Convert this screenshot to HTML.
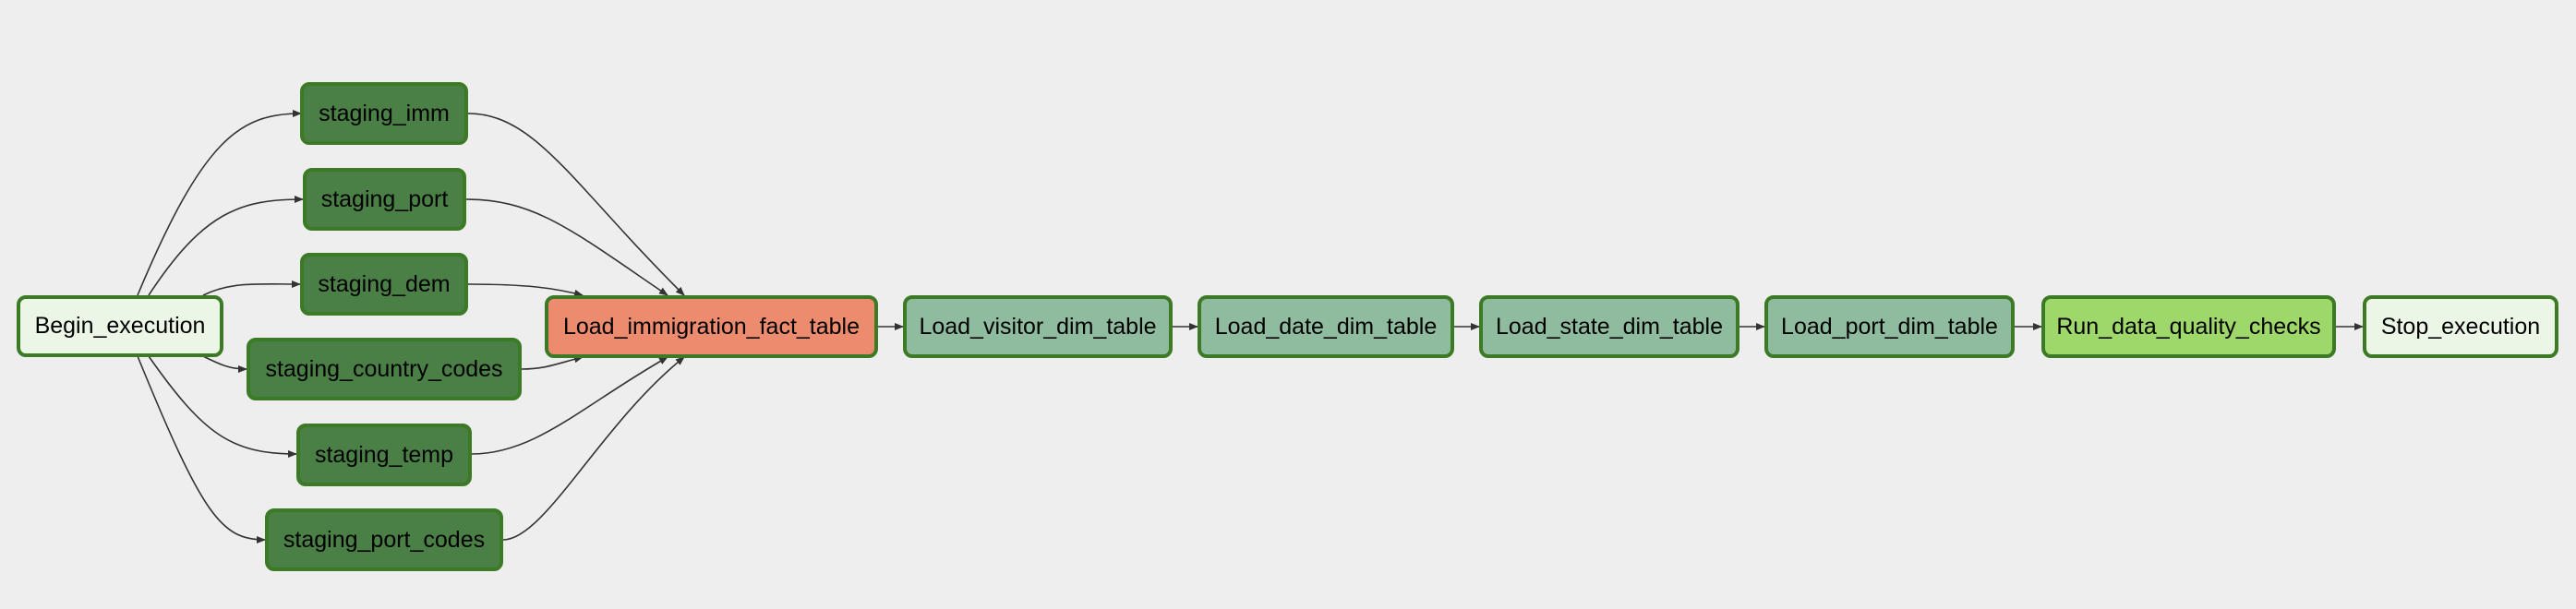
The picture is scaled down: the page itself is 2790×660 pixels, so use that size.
<!DOCTYPE html>
<html><head><meta charset="utf-8"><style>
body{margin:0;width:2790px;height:660px;background:#eeeeee;overflow:hidden;position:relative;font-family:"Liberation Sans",Arial,sans-serif}
.n{position:absolute;box-sizing:border-box;border:4px solid #3c7a26;border-radius:10px;display:flex;align-items:center;justify-content:center;font-size:25px;color:#000;white-space:nowrap}
.s{background:#4a7f45}
.w{background:#ecf6e7}
.d{background:#8fbb9e}
svg{position:absolute;left:0;top:0}
</style></head><body>
<svg width="2790" height="660">
<defs><marker id="a" markerWidth="10" markerHeight="8" refX="9" refY="4" orient="auto" markerUnits="userSpaceOnUse"><path d="M0,0 L10,4 L0,8 z" fill="#333"/></marker></defs>
<g fill="none" stroke="#333" stroke-width="1.6" marker-end="url(#a)">
<path d="M149,320 C220,150 260,123 326,123"/>
<path d="M161,320 C220,230 260,216 328,216"/>
<path d="M220,320 C250,305 280,308 325,308"/>
<path d="M220,386 C240,396 250,400 267,400"/>
<path d="M161,386 C220,470 250,492 321,492"/>
<path d="M149,386 C220,560 240,585 287,585"/>
<path d="M507,123 C580,123 620,200 741,320"/>
<path d="M505,216 C580,216 620,250 723,320"/>
<path d="M507,308 C570,308 600,312 631,320"/>
<path d="M565,400 C590,400 600,395 631,387"/>
<path d="M511,492 C580,492 630,440 723,387"/>
<path d="M545,585 C590,585 650,460 741,387"/>
<path d="M951,354 L978,354"/>
<path d="M1270,354 L1297,354"/>
<path d="M1575,354 L1602,354"/>
<path d="M1884,354 L1911,354"/>
<path d="M2182,354 L2211,354"/>
<path d="M2530,354 L2559,354"/>
</g></svg>
<div class="n w" style="left:18px;top:320px;width:224px;height:67px">Begin_execution</div>
<div class="n s" style="left:325px;top:89px;width:182px;height:68px">staging_imm</div>
<div class="n s" style="left:328px;top:182px;width:177px;height:68px">staging_port</div>
<div class="n s" style="left:325px;top:274px;width:182px;height:68px">staging_dem</div>
<div class="n s" style="left:267px;top:366px;width:298px;height:68px">staging_country_codes</div>
<div class="n s" style="left:321px;top:459px;width:190px;height:68px">staging_temp</div>
<div class="n s" style="left:287px;top:551px;width:258px;height:68px">staging_port_codes</div>
<div class="n" style="left:590px;top:320px;width:361px;height:68px;background:#ec8b6e">Load_immigration_fact_table</div>
<div class="n d" style="left:978px;top:320px;width:292px;height:68px">Load_visitor_dim_table</div>
<div class="n d" style="left:1297px;top:320px;width:278px;height:68px">Load_date_dim_table</div>
<div class="n d" style="left:1602px;top:320px;width:282px;height:68px">Load_state_dim_table</div>
<div class="n d" style="left:1911px;top:320px;width:271px;height:68px">Load_port_dim_table</div>
<div class="n" style="left:2211px;top:320px;width:319px;height:68px;background:#9ed86b">Run_data_quality_checks</div>
<div class="n w" style="left:2559px;top:320px;width:212px;height:68px">Stop_execution</div>
</body></html>
